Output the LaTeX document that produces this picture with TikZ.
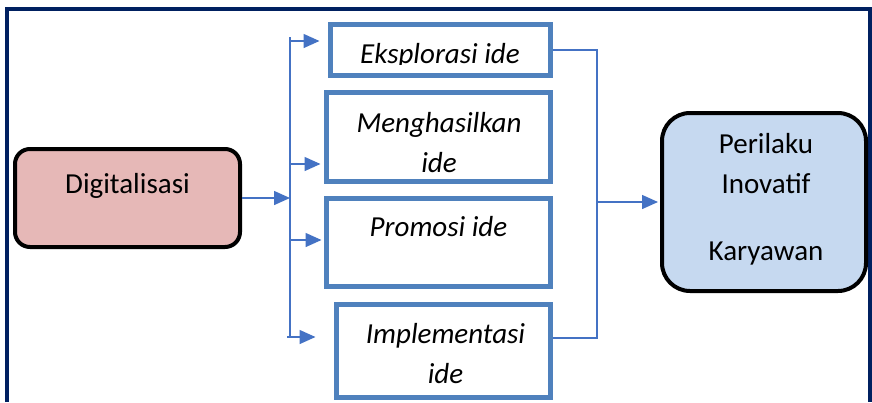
\documentclass[tikz,border=0pt]{standalone}
\usepackage{fontspec}
\setmainfont{Carlito}
\usetikzlibrary{arrows.meta}
\definecolor{framenavy}{RGB}{0,32,96}
\definecolor{ideablue}{RGB}{79,129,189}
\definecolor{linkblue}{RGB}{68,114,196}
\definecolor{digifill}{RGB}{230,184,183}
\definecolor{perifill}{RGB}{198,217,240}
\begin{document}
\begin{tikzpicture}[x=1pt,y=-1pt,
  every node/.style={font=\fontsize{29}{40}\selectfont},
  mainbox/.style={draw=black,line width=4pt,rounded corners=15pt,inner sep=0pt},
  ideabox/.style={draw=ideablue,line width=5pt,fill=white,inner sep=0pt},
  txt/.style={anchor=base,inner sep=0pt,align=center},
  idea/.style={txt,font=\fontsize{29}{40}\selectfont\itshape},
  link/.style={draw=linkblue,line width=1.5pt},
  flow/.style={link,arrows={-Triangle[length=16pt,width=14pt]}}]
\useasboundingbox (0,0) rectangle (872,402);
% frame
\draw[framenavy,line width=4pt] (7,402) -- (7,9) -- (870,9) -- (870,402);
% left and right boxes
\node[mainbox,fill=digifill,minimum width=225pt,minimum height=98pt] (digi) at (127.5,198) {};
\node[txt] (digitxt) at (127.5,193) {Digitalisasi};
\node[mainbox,fill=perifill,rounded corners=28pt,minimum width=204pt,minimum height=178pt] (peri) at (764,202) {};
\node[txt] (peritxt) at (766,260) {Perilaku\\Inovatif\\[27pt]Karyawan};
% idea boxes
\node[ideabox,minimum width=220pt,minimum height=51pt] (b1) at (440.5,50) {};
\node[ideabox,minimum width=224pt,minimum height=89pt] (b2) at (438.5,137) {};
\node[ideabox,minimum width=224pt,minimum height=88pt] (b3) at (438.5,242.5) {};
\node[ideabox,minimum width=214pt,minimum height=93pt] (b4) at (443.5,351) {};
\begin{scope}
  \clip (330,26) rectangle (551,64);
  \node[idea] (b1txt) at (440,63) {Eksplorasi ide};
\end{scope}
\begin{scope}
  \clip (328,95) rectangle (549,172);
  \node[idea] (b2txt) at (439,172) {Menghasilkan\\ide};
\end{scope}
\node[idea] (b3txt) at (438.5,236) {Promosi ide};
\node[idea] (b4txt) at (445.5,383) {Implementasi\\ide};
% connectors
\coordinate (trunktop) at (290,37);
\coordinate (trunkbot) at (290,337);
\coordinate (br1) at (290,41);
\coordinate (br2) at (290,164);
\coordinate (br3) at (290,240);
\coordinate (br4) at (287,337);
\coordinate (mtop) at (597,50);
\coordinate (mbot) at (597,338);
\draw[link] (trunktop) -- (trunkbot);
\draw[flow] (digi) -- (digi -| trunktop);
\draw[flow,shorten >=8.5pt] (br1) -- (br1 -| b1.west);
\draw[flow,shorten >=3.5pt] (br2) -- (br2 -| b2.west);
\draw[flow,shorten >=2.5pt] (br3) -- (br3 -| b3.west);
\draw[flow,shorten >=18.5pt] (br4) -- (br4 -| b4.west);
\draw[link] (b1.east |- mtop) -- (mtop) -- (mbot) -- (mbot -| b4.east);
\draw[flow,shorten >=2pt] (mtop |- peri.west) -- (peri.west);
\end{tikzpicture}
\end{document}
